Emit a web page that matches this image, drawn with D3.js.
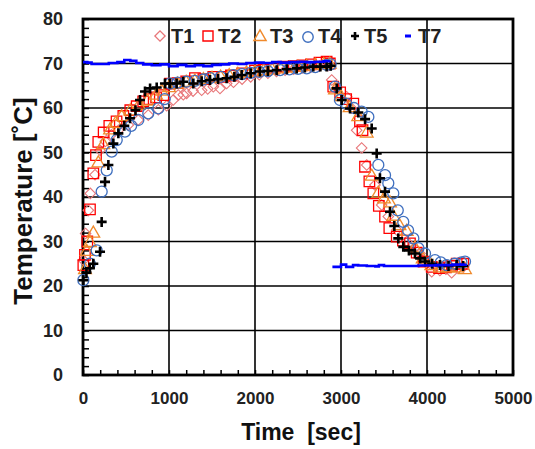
<!DOCTYPE html>
<html><head><meta charset="utf-8">
<script src="https://cdn.jsdelivr.net/npm/d3@7"></script>
<style>
html,body{margin:0;padding:0;background:#fff;}
svg text{font-family:"Liberation Sans",Arial,sans-serif;font-weight:bold;}
</style></head>
<body><svg id="c" width="535" height="449"></svg>
<script>
// ---- data: [time (s), temperature (°C)] ----
const T1 = [[4,25.8],[30,31.8],[62,37],[85,40.8],[140,45],[198,50.5],[260,52.5],[330,54],[411,55],[527,56.2],[643,57.3],[759,58.4],[876,59.6],[973,60.5],[1050,61.8],[1108,62.9],[1166,63],[1205,63.3],[1280,63.8],[1380,64],[1450,64.3],[1515,64.8],[1593,64.4],[1670,65.5],[1750,65.8],[1850,66.5],[1950,67],[2050,67.5],[2150,67.8],[2250,68.2],[2350,68.5],[2450,68.7],[2550,69],[2650,69.2],[2750,69.4],[2850,69.5],
  [2892,66.3],[2950,64.5],[3066,62.5],[3120,60],[3182,55],[3240,51],[3299,47.2],[3395,42.7],[3473,38.2],[3550,35.6],[3648,32.6],[3764,30],[3850,28.5],[3919,27.3],[4000,25],[4055,23.2],[4150,23.5],[4220,23.8],[4287,23],[4360,24],[4422,24.3]];
const T2 = [[4,24.7],[23,27],[50,30],[81,37.2],[120,45.3],[151,49.4],[178,52.4],[240,54.5],[306,56],[390,57],[469,58.2],[550,59.5],[624,60.4],[700,61.5],[771,62],[850,62.4],[934,62.9],[1012,65.5],[1100,65.6],[1200,66],[1302,66.7],[1400,66.5],[1515,67],[1620,67],[1720,67.3],[1850,67.8],[2000,68.4],[2100,68.6],[2200,69],[2329,69.3],[2450,69.4],[2550,69.6],[2650,69.8],[2750,70.2],[2833,70.4],[2870,70],
  [2910,64.8],[2990,63.5],[3060,62],[3143,61],[3221,57],[3250,55],[3279,46.8],[3330,43.5],[3376,40.8],[3440,38],[3512,35.6],[3562,33],[3648,31.1],[3720,30.2],[3802,29.6],[3880,27.5],[3960,25.5],[4055,24.3],[4140,24],[4220,24.2],[4290,24.5],[4345,25],[4422,25]];
const T3 = [[23,23.6],[43,27.7],[81,29.7],[120,31.8],[178,47.6],[236,51.7],[314,55],[380,56.5],[450,58],[550,59.3],[650,60.5],[750,61.5],[850,62.8],[915,63.7],[1000,64.5],[1100,65.3],[1200,65.7],[1300,66],[1400,66.3],[1500,66.6],[1600,66.9],[1700,67.2],[1800,67.5],[1900,67.8],[2000,68],[2100,68.3],[2200,68.5],[2300,68.7],[2400,68.9],[2500,69.1],[2600,69.3],[2700,69.5],[2800,69.7],[2870,69.8],
  [2930,64],[3000,62.5],[3100,60],[3200,58],[3299,54.3],[3357,44.6],[3434,40.8],[3500,39.5],[3570,38.6],[3608,35.6],[3680,33.5],[3764,32.2],[3860,28.5],[3950,26],[4050,24.5],[4150,24],[4250,24],[4350,24],[4442,23.6]];
const T4 = [[4,21.3],[80,25],[159,28],[217,41.2],[276,46],[334,50.2],[392,52.8],[488,54.7],[560,56],[643,57.3],[759,58.8],[876,59.9],[950,62],[1012,65.5],[1100,65.7],[1200,65.9],[1300,66.1],[1400,66.4],[1477,66.7],[1600,67],[1748,67.4],[1850,67.6],[1950,67.9],[2050,68.1],[2150,68.3],[2291,68.5],[2400,68.7],[2500,68.8],[2601,68.9],[2700,69.2],[2833,69.7],[2880,69.8],
  [2930,64.8],[2988,61.8],[3060,61],[3150,60],[3240,59.2],[3318,58],[3434,47.2],[3512,44.9],[3550,43.1],[3608,40.8],[3660,37],[3724,34.4],[3780,32.5],[3841,30.7],[3900,28.5],[3977,27.3],[4093,25.8],[4160,25.3],[4229,24.7],[4320,25],[4400,25.3],[4442,25.5]];
const T5 = [[4,21.3],[40,23],[80,24],[120,25],[198,27.7],[217,34.4],[256,43.4],[295,47.2],[353,52],[411,54.3],[480,56],[547,57.7],[610,59.5],[663,61.8],[721,63.7],[780,64.4],[857,64.6],[953,65.5],[1012,65.5],[1089,65.5],[1166,65.9],[1283,65.5],[1380,66],[1477,66.3],[1570,66.5],[1670,66.7],[1760,67],[1845,67.4],[1950,67.8],[2058,68.2],[2150,68.3],[2252,68.5],[2370,68.7],[2485,68.9],[2580,69.1],[2678,69.3],[2760,69.3],[2833,69.3],[2880,69.5],
  [2950,64.4],[3008,61.8],[3105,59.9],[3201,59],[3280,57.5],[3357,55.4],[3415,49.8],[3453,44.2],[3512,41.2],[3570,36.7],[3620,33.5],[3666,30.7],[3724,28.8],[3790,28],[3860,27.3],[3920,26.2],[3977,25.5],[4060,25],[4151,24.7],[4250,24.5],[4345,24.7],[4420,24.5]];
const T7heat = [[0,70.3],[50,70.2],[100,69.9],[200,69.9],[300,70.1],[400,70.3],[480,70.8],[550,70.6],[620,70.1],[700,69.8],[800,69.6],[900,69.8],[1000,69.4],[1100,69.7],[1200,69.4],[1300,69.6],[1400,69.4],[1500,69.7],[1600,69.8],[1700,70],[1800,69.9],[1900,70.1],[2000,70.2],[2100,70.1],[2200,70.3],[2300,70.2],[2400,70.3],[2500,70.4],[2600,70.3],[2700,70.4],[2800,70.5],[2870,70.6]];
const T7cool = [[2900,24.3],[2960,24.3],[3000,24.8],[3040,24.8],[3060,24.3],[3120,24.3],[3140,24.7],[3200,24.6],[3300,24.5],[3400,24.4],[3440,24.7],[3500,24.5],[3600,24.5],[3700,24.5],[3800,24.5],[3900,24.6],[4000,24.6],[4100,24.7],[4200,24.7],[4300,24.8],[4400,24.8],[4450,24.9]];
const xTicks = [0,1000,2000,3000,4000,5000];
const yTicks = [0,10,20,30,40,50,60,70,80];
const legendLabels = ["T1","T2","T3","T4","T5","T7"];

const svg = d3.select("#c");
const L = 83, R = 513, Tp = 19, B = 375;
const x = d3.scaleLinear().domain([0,5000]).range([L,R]);
const y = d3.scaleLinear().domain([0,80]).range([B,Tp]);

// gridlines
svg.append("g").selectAll("line").data(xTicks.slice(1,-1)).join("line")
  .attr("x1",d=>x(d)).attr("x2",d=>x(d)).attr("y1",Tp).attr("y2",B)
  .attr("stroke","#000").attr("stroke-width",1.6);
svg.append("g").selectAll("line").data(yTicks.slice(1,-1)).join("line")
  .attr("y1",d=>y(d)).attr("y2",d=>y(d)).attr("x1",L).attr("x2",R)
  .attr("stroke","#000").attr("stroke-width",1.6);

// minor ticks
const yMinor = d3.range(0,80.001,2);
svg.append("g").attr("transform",`translate(${L},0)`)
  .call(d3.axisRight(y).tickValues(yMinor).tickSize(6).tickFormat(""))
  .call(g=>{g.select(".domain").remove(); g.selectAll("line").attr("stroke","#000").attr("stroke-width",1.5);});
const xMinor = d3.range(0,5000.001,200);
svg.append("g").attr("transform",`translate(0,${B})`)
  .call(d3.axisTop(x).tickValues(xMinor).tickSize(5).tickFormat(""))
  .call(g=>{g.select(".domain").remove(); g.selectAll("line").attr("stroke","#000").attr("stroke-width",1.5);});

// tick labels
svg.append("g").attr("transform",`translate(${L},0)`)
  .call(d3.axisLeft(y).tickValues(yTicks).tickSize(0).tickPadding(20).tickFormat(d3.format("d")))
  .call(g=>{g.select(".domain").remove(); g.selectAll("text").attr("font-size",18).attr("fill","#222")
    .style("font-family","'Liberation Sans',Arial,sans-serif").style("font-weight","bold");});
svg.append("g").attr("transform",`translate(0,${B})`)
  .call(d3.axisBottom(x).tickValues(xTicks).tickSize(0).tickPadding(17).tickFormat(d3.format("d")))
  .call(g=>{g.select(".domain").remove(); g.selectAll("text").attr("font-size",17).attr("fill","#222")
    .style("font-family","'Liberation Sans',Arial,sans-serif").style("font-weight","bold");});

// frame
svg.append("rect").attr("x",L).attr("y",Tp).attr("width",R-L).attr("height",B-Tp)
  .attr("fill","none").attr("stroke","#000").attr("stroke-width",2.8);

// markers
function pts(data, gen, color, sw, rot){
  svg.append("g").selectAll("path").data(data).join("path")
    .attr("transform",d=>`translate(${x(d[0])},${y(d[1])})${rot?" rotate(45)":""}`)
    .attr("d",gen).attr("fill","none").attr("stroke",color).attr("stroke-width",sw);
}
function plus(data, s){
  svg.append("g").selectAll("path").data(data).join("path")
   .attr("d", d=>{const cx=x(d[0]), cy=y(d[1]); return `M${cx-s},${cy}H${cx+s}M${cx},${cy-s}V${cy+s}`;})
   .attr("stroke","#000").attr("stroke-width",2.6).attr("fill","none");
}
const cT1="#E8777A", cT2="#FF0000", cT3="#F08A2C", cT4="#3F6FBF", cT7="#0000FF";
const gDiamond = d3.symbol().type(d3.symbolSquare).size(56);
const gSquare = d3.symbol().type(d3.symbolSquare).size(110);
const gTri = d3.symbol().type(d3.symbolTriangle).size(70);
const gCirc = d3.symbol().type(d3.symbolCircle).size(95);
pts(T1, gDiamond, cT1, 1.1, true);
pts(T2, gSquare, cT2, 1.3);
pts(T3, gTri, cT3, 1.3);
pts(T4, gCirc, cT4, 1.3);
plus(T5, 5);

const line = d3.line().x(d=>x(d[0])).y(d=>y(d[1])).curve(d3.curveStepAfter);
[T7heat, T7cool].forEach(s=>svg.append("path").datum(s).attr("d",line)
  .attr("fill","none").attr("stroke",cT7).attr("stroke-width",2.6));

// legend
const lg = svg.append("g");
const lgX = [160,208,260,308,355,408], lgTX = [171,218,270,318,364,418], lgY = 36;
lg.append("path").attr("d",d3.symbol().type(d3.symbolSquare).size(52)()).attr("transform",`translate(${lgX[0]},${lgY}) rotate(45)`).attr("fill","none").attr("stroke",cT1).attr("stroke-width",1.3);
lg.append("path").attr("d",d3.symbol().type(d3.symbolSquare).size(100)()).attr("transform",`translate(${lgX[1]},${lgY})`).attr("fill","none").attr("stroke",cT2).attr("stroke-width",1.4);
lg.append("path").attr("d",d3.symbol().type(d3.symbolTriangle).size(65)()).attr("transform",`translate(${lgX[2]},${lgY+1})`).attr("fill","none").attr("stroke",cT3).attr("stroke-width",1.4);
lg.append("path").attr("d",d3.symbol().type(d3.symbolCircle).size(85)()).attr("transform",`translate(${lgX[3]},${lgY+1})`).attr("fill","none").attr("stroke",cT4).attr("stroke-width",1.4);
lg.append("path").attr("d",`M${lgX[4]-4},${lgY}H${lgX[4]+4}M${lgX[4]},${lgY-4}V${lgY+4}`).attr("stroke","#000").attr("stroke-width",2.6);
lg.append("path").attr("d",`M${lgX[5]-3},${lgY}H${lgX[5]+3}`).attr("stroke",cT7).attr("stroke-width",3);
lg.selectAll("text").data(legendLabels).join("text")
  .attr("x",(d,i)=>lgTX[i]).attr("y",lgY).attr("dy","0.36em")
  .attr("font-size",20).attr("fill","#222").text(d=>d);

// axis titles
svg.append("text").attr("x",301).attr("y",440).attr("text-anchor","middle")
  .attr("font-size",23).attr("fill","#111").style("white-space","pre").text("Time  [sec]");
svg.append("text").attr("transform",`translate(32,201) rotate(-90)`).attr("text-anchor","middle")
  .attr("font-size",26).attr("fill","#111").text("Temperature [˚C]");
</script></body></html>
